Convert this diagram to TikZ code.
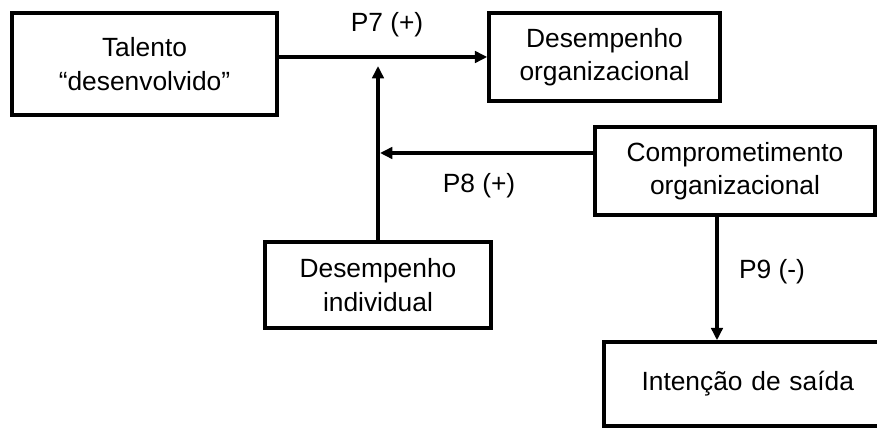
\documentclass[tikz,border=0pt]{standalone}
\usepackage{fontspec}
\setmainfont{Liberation Sans}
\usetikzlibrary{arrows.meta}

\begin{document}
\begin{tikzpicture}[x=0.02cm, y=-0.02cm,
            box node/.style={draw, line width=2pt, align=center, inner sep=2pt,
                font=\fontsize{15}{19}\selectfont},
            link/.style={line width=2pt, -{Triangle[length=7pt, width=6.5pt]}},
            lbl/.style={font=\fontsize{15}{17}\selectfont},
            ]
            \useasboundingbox (0,0) rectangle (877,428);
            \clip (0,0) rectangle (877,428);

            \node[box node, minimum width=5.3cm, minimum height=2.04cm] (talento) at (144.5,64) {Talento\\``desenvolvido''};
            \node[box node, minimum width=4.62cm, minimum height=1.76cm] (desorg) at (604.5,57) {Desempenho\\organizacional};
            \node[box node, minimum width=5.6cm, minimum height=1.76cm] (compr) at (735,171) {Comprometimento\\organizacional};
            \node[box node, minimum width=4.52cm, minimum height=1.72cm] (desind) at (378,285) {Desempenho\\individual};
            \node[box node, minimum width=5.6cm, minimum height=1.68cm, text width=5.1cm, align=left] (intencao) at (744,384) {\hspace*{0.5cm}Intenção de saída};

            \coordinate (juncao) at (378,66);
            \coordinate (p8fim) at (380,153);

            \draw[link] (talento.east |- desorg.west) -- (desorg.west);
            \draw[link] (desind.north) -- (juncao);
            \draw[link] (compr.west |- p8fim) -- (p8fim);
            \draw[link] (compr.south -| 717,0) -- (intencao.north -| 717,0);

            \node[lbl] (p7) at (387,25) {P7 (+)};
            \node[lbl] (p8) at (479,186) {P8 (+)};
            \node[lbl] (p9) at (772,272) {P9 (-)};
        \end{tikzpicture}
\end{document}
